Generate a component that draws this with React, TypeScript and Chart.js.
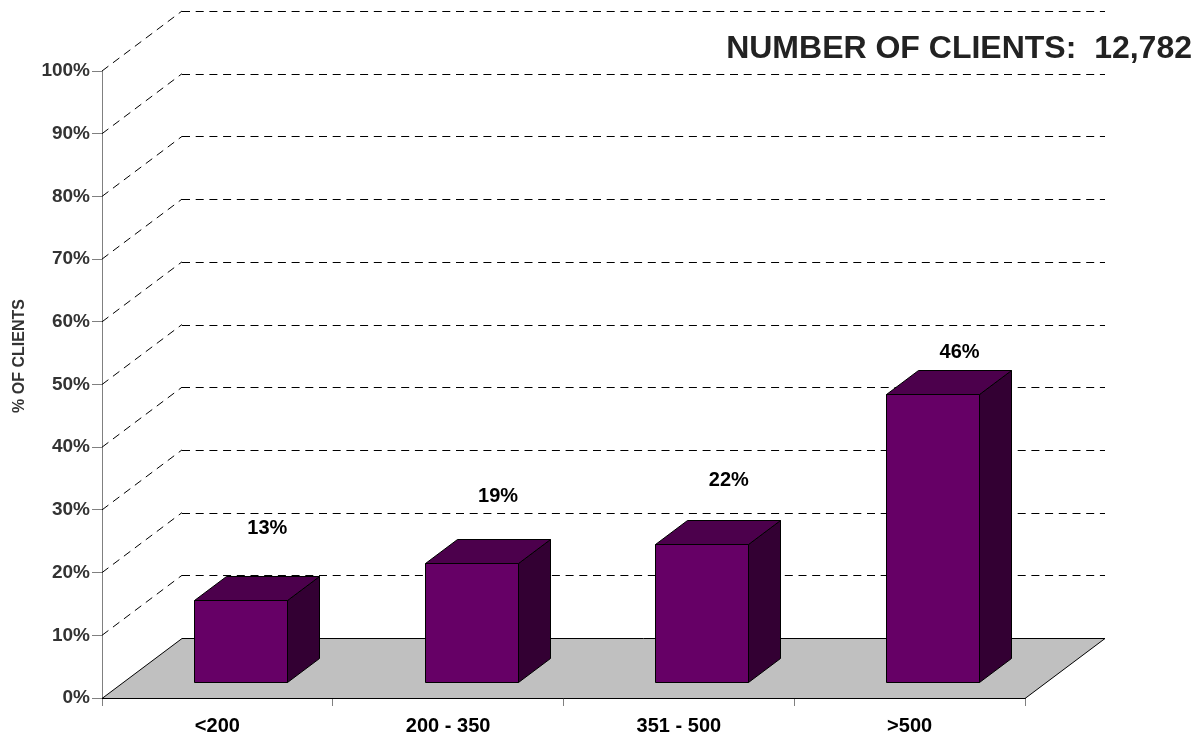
import React, { useEffect, useRef } from "react";
import { Chart, registerables } from "chart.js";

Chart.register(...registerables);

const categories = ["<200", "200 - 350", "351 - 500", ">500"];
const shareOfClients = [13, 19, 22, 46];
const yTicks = [0, 10, 20, 30, 40, 50, 60, 70, 80, 90, 100];
const titleText = "NUMBER OF CLIENTS:  12,782";
const yAxisTitle = "% OF CLIENTS";

const FONT = "Arial, 'Liberation Sans', sans-serif";
const WALL_DX = 80;
const WALL_DY = -60;
const BAR_FX = 23;
const BAR_FY = -16;
const BAR_DX = 32;
const BAR_DY = -24;

const px = (v: number) => Math.round(v) + 0.5;

const threeDPlugin = {
  id: "threeD",
  beforeDatasetsDraw(chart: any) {
    const { ctx, chartArea, scales } = chart;
    const y = scales.y;
    const L = chartArea.left;
    const R = chartArea.right;
    const B = chartArea.bottom;
    ctx.save();
    ctx.strokeStyle = "#000";
    ctx.lineWidth = 1;
    ctx.setLineDash([8, 5.7]);
    yTicks.forEach((t) => {
      if (t === 0) return;
      const yp = y.getPixelForValue(t);
      ctx.beginPath();
      ctx.moveTo(L, yp);
      ctx.lineTo(L + WALL_DX, yp + WALL_DY);
      ctx.stroke();
      ctx.beginPath();
      ctx.moveTo(L + WALL_DX, px(yp + WALL_DY));
      ctx.lineTo(R + WALL_DX, px(yp + WALL_DY));
      ctx.stroke();
    });
    ctx.setLineDash([]);
    ctx.beginPath();
    ctx.moveTo(L, px(B));
    ctx.lineTo(R, px(B));
    ctx.lineTo(R + WALL_DX, px(B + WALL_DY));
    ctx.lineTo(L + WALL_DX, px(B + WALL_DY));
    ctx.closePath();
    ctx.fillStyle = "#c0c0c0";
    ctx.fill();
    ctx.strokeStyle = "#000";
    ctx.lineWidth = 1;
    ctx.stroke();
    ctx.restore();
  },
  afterDatasetsDraw(chart: any) {
    const { ctx, scales } = chart;
    const y = scales.y;
    const meta = chart.getDatasetMeta(0);
    ctx.save();
    ctx.lineWidth = 1;
    ctx.strokeStyle = "#000";
    ctx.lineJoin = "miter";
    meta.data.forEach((el: any, i: number) => {
      const { x, width, base } = el.getProps(["x", "width", "base", "y"], true);
      const top = el.y;
      const x0 = px(x - width / 2 + BAR_FX);
      const x1 = px(x + width / 2 + BAR_FX);
      const yT = px(top + BAR_FY);
      const yB = px(base + BAR_FY);
      ctx.beginPath();
      ctx.moveTo(x1, yT);
      ctx.lineTo(x1 + BAR_DX, yT + BAR_DY);
      ctx.lineTo(x1 + BAR_DX, yB + BAR_DY);
      ctx.lineTo(x1, yB);
      ctx.closePath();
      ctx.fillStyle = "#330033";
      ctx.fill();
      ctx.stroke();
      ctx.beginPath();
      ctx.moveTo(x0, yT);
      ctx.lineTo(x1, yT);
      ctx.lineTo(x1 + BAR_DX, yT + BAR_DY);
      ctx.lineTo(x0 + BAR_DX, yT + BAR_DY);
      ctx.closePath();
      ctx.fillStyle = "#4c004c";
      ctx.fill();
      ctx.stroke();
      ctx.beginPath();
      ctx.rect(x0, yT, x1 - x0, yB - yT);
      ctx.fillStyle = "#660066";
      ctx.fill();
      ctx.stroke();
      const v = shareOfClients[i];
      ctx.fillStyle = "#000";
      ctx.font = `bold 20px ${FONT}`;
      ctx.textAlign = "center";
      ctx.textBaseline = "middle";
      ctx.fillText(`${v}%`, x + 50, y.getPixelForValue(v * 0.85) - 100);
    });
    ctx.fillStyle = "#222";
    ctx.font = `bold 32px ${FONT}`;
    ctx.textAlign = "right";
    ctx.textBaseline = "middle";
    ctx.fillText(titleText, 1192, 49);
    ctx.save();
    ctx.translate(20, 356);
    ctx.rotate(-Math.PI / 2);
    ctx.fillStyle = "#333";
    ctx.font = `bold 16px ${FONT}`;
    ctx.textAlign = "center";
    ctx.textBaseline = "middle";
    ctx.fillText(yAxisTitle, 0, 0);
    ctx.restore();
    ctx.restore();
  },
};

export default function App() {
  const ref = useRef<HTMLCanvasElement | null>(null);
  useEffect(() => {
    if (!ref.current) return;
    const chart = new Chart(ref.current, {
      type: "bar",
      data: {
        labels: categories,
        datasets: [
          {
            data: shareOfClients,
            backgroundColor: "rgba(0,0,0,0)",
            borderWidth: 0,
            categoryPercentage: 1,
            barPercentage: 0.403,
          },
        ],
      },
      options: {
        responsive: false,
        animation: false,
        events: [],
        devicePixelRatio: 1,
        layout: { padding: { top: 71, right: 179, left: 0, bottom: 0 } },
        plugins: {
          legend: { display: false },
          tooltip: { enabled: false },
          title: { display: false },
        },
        scales: {
          x: {
            type: "category",
            offset: true,
            grid: {
              display: true,
              drawOnChartArea: false,
              drawTicks: true,
              tickLength: 8,
              color: "#808080",
              offset: true,
            },
            border: { display: true, color: "#222", width: 1 },
            ticks: {
              color: "#000",
              font: { family: FONT, size: 20, weight: "bold" },
              padding: 8,
              maxRotation: 0,
              autoSkip: false,
            },
            afterFit: (s: any) => {
              s.height = 42;
            },
          },
          y: {
            type: "linear",
            min: 0,
            max: 100,
            grid: {
              display: true,
              drawOnChartArea: false,
              tickLength: 10,
              color: "#808080",
            },
            border: { display: true, color: "#808080", width: 1 },
            ticks: {
              stepSize: 10,
              color: "#333",
              font: { family: FONT, size: 19, weight: "bold" },
              padding: 2,
              callback: (v: any) => `${v}%`,
            },
            afterFit: (s: any) => {
              s.width = 102;
            },
          },
        },
      },
      plugins: [threeDPlugin],
    });
    return () => chart.destroy();
  }, []);
  return (
    <div style={{ position: "absolute", left: 0, top: 0, width: 1204, height: 740, background: "#fff" }}>
      <canvas ref={ref} width={1204} height={740} style={{ width: 1204, height: 740, display: "block" }} />
    </div>
  );
}
